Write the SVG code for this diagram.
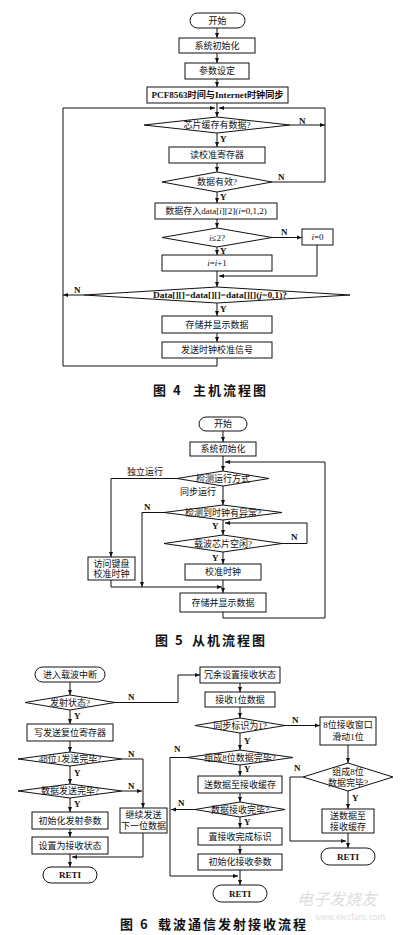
<svg xmlns="http://www.w3.org/2000/svg" width="400" height="935" viewBox="0 0 400 935">
<style>
.b{fill:#fff;stroke:#111;stroke-width:1}
.t{font-family:"Liberation Serif","Noto Sans CJK SC",serif;font-size:9px;text-anchor:middle;dominant-baseline:central;fill:#111}
.bt{font-weight:bold}
.l{font-family:"Liberation Serif","Noto Sans CJK SC",serif;font-size:9px;font-weight:bold;fill:#111;dominant-baseline:central}
.c{fill:none;stroke:#111;stroke-width:1}
.a{marker-end:url(#ah)}
.cap{font-family:"Noto Sans CJK SC",sans-serif;font-size:13px;font-weight:bold;fill:#111;dominant-baseline:central;letter-spacing:2px}
.wm{font-family:"Noto Sans CJK SC","Liberation Sans",sans-serif;fill:#ddd;dominant-baseline:central}
</style>
<defs>
<marker id="ah" viewBox="0 0 10 10" refX="10" refY="5" markerWidth="5" markerHeight="5" orient="auto"><path d="M0,1 L10,5 L0,9 z" fill="#111"/></marker>
</defs>
<rect width="400" height="935" fill="#fff"/>

<!-- Figure 4 -->
<g id="f4-start"><rect class="b" x="190" y="13" width="55" height="15" rx="7.5"/><text class="t" x="217.5" y="20.5">开始</text></g>
<g id="f4-init"><rect class="b" x="179" y="38" width="76" height="15"/><text class="t" x="217" y="45.5">系统初始化</text></g>
<g id="f4-param"><rect class="b" x="185" y="63" width="64" height="16"/><text class="t" x="217" y="71">参数设定</text></g>
<g id="f4-sync"><rect class="b" x="147" y="87" width="141" height="16"/><text class="t bt" x="217.5" y="95" textLength="132" lengthAdjust="spacingAndGlyphs">PCF8563时间与Internet时钟同步</text></g>
<g id="f4-d1"><polygon class="b" points="217,117 290,125 217,133 144,125"/><text class="t" x="217" y="125">芯片缓存有数据?</text></g>
<g id="f4-read"><rect class="b" x="169" y="147" width="96" height="16"/><text class="t" x="217" y="155">读校准寄存器</text></g>
<g id="f4-d2"><polygon class="b" points="217,172 272,182 217,192 162,182"/><text class="t" x="217" y="182">数据有效?</text></g>
<g id="f4-store"><rect class="b" x="155" y="203" width="122" height="16"/><text class="t" x="216" y="211">数据存入data[<tspan font-style="italic">i</tspan>][2](<tspan font-style="italic">i</tspan>=0,1,2)</text></g>
<g id="f4-d3"><polygon class="b" points="217,228 272,237.5 217,247 162,237.5"/><text class="t" x="217" y="237.5"><tspan font-style="italic">i</tspan>≤2?</text></g>
<g id="f4-i0"><rect class="b" x="302" y="229" width="31" height="16"/><text class="t" x="317.5" y="237"><tspan font-style="italic">i</tspan>=0</text></g>
<g id="f4-inc"><rect class="b" x="162" y="255" width="110" height="16"/><text class="t" x="217" y="263"><tspan font-style="italic">i</tspan>=<tspan font-style="italic">i</tspan>+1</text></g>
<g id="f4-d4"><polygon class="b" points="217,287 350,295 217,303 84,295"/><text class="t bt" x="220" y="295" font-size="8" textLength="134" lengthAdjust="spacingAndGlyphs">Data[][]=data[][]=data[][](<tspan font-style="italic">j</tspan>=0,1)?</text></g>
<g id="f4-show"><rect class="b" x="162" y="316" width="110" height="17"/><text class="t" x="217" y="324.5">存储并显示数据</text></g>
<g id="f4-send"><rect class="b" x="162" y="342" width="110" height="16"/><text class="t" x="217" y="350">发送时钟校准信号</text></g>

<!-- Figure 5 -->
<g id="f5-start"><rect class="b" x="199" y="417" width="48" height="14" rx="7"/><text class="t" x="223" y="424">开始</text></g>
<g id="f5-init"><rect class="b" x="190" y="442" width="66" height="14"/><text class="t" x="223" y="449">系统初始化</text></g>
<g id="f5-d1"><polygon class="b" points="223,471 269,478.5 223,486 177,478.5"/><text class="t" x="223" y="478.5">检测运行方式</text></g>
<g id="f5-d2"><polygon class="b" points="223,505 282,512.5 223,520 164,512.5"/><text class="t" x="223" y="512.5">检测到时钟有异常?</text></g>
<g id="f5-d3"><polygon class="b" points="223,535 282,543.5 223,552 164,543.5"/><text class="t" x="223" y="543.5">载波芯片空闲?</text></g>
<g id="f5-kbd"><rect class="b" x="88" y="557" width="47" height="23"/><text class="t" x="111.5" y="563.5">访问键盘</text><text class="t" x="111.5" y="574">校准时钟</text></g>
<g id="f5-cal"><rect class="b" x="185" y="564" width="76" height="16"/><text class="t" x="223" y="572">校准时钟</text></g>
<g id="f5-show"><rect class="b" x="180" y="593" width="86" height="19"/><text class="t" x="223" y="602.5">存储并显示数据</text></g>

<!-- Figure 6 left -->
<g id="f6-start"><rect class="b" x="35" y="667" width="70" height="15" rx="7.5"/><text class="t" x="70" y="674.5">进入载波中断</text></g>
<g id="f6-d1"><polygon class="b" points="70,695 115,702.5 70,710 25,702.5"/><text class="t" x="70" y="702.5">发射状态?</text></g>
<g id="f6-wr"><rect class="b" x="27" y="724" width="86" height="17"/><text class="t" x="70" y="732.5">写发送复位寄存器</text></g>
<g id="f6-d2"><polygon class="b" points="70,752 122,759 70,766 18,759"/><text class="t" x="70" y="759">48位1发送完毕?</text></g>
<g id="f6-d3"><polygon class="b" points="70,784 122,791 70,798 18,791"/><text class="t" x="70" y="791">数据发送完毕?</text></g>
<g id="f6-initTx"><rect class="b" x="32" y="812" width="76" height="17"/><text class="t" x="70" y="820.5">初始化发射参数</text></g>
<g id="f6-setRx"><rect class="b" x="32" y="837" width="76" height="17"/><text class="t" x="70" y="845.5">设置为接收状态</text></g>
<g id="f6-cont"><rect class="b" x="120" y="808" width="47" height="25"/><text class="t" x="143.5" y="815">继续发送</text><text class="t" x="143.5" y="826">下一位数据</text></g>
<g id="f6-reti1"><rect class="b" x="43" y="867" width="54" height="16" rx="8"/><text class="t bt" x="70" y="875">RETI</text></g>

<!-- Figure 6 middle -->
<g id="f6-rx"><rect class="b" x="200" y="667" width="80" height="16"/><text class="t" x="240" y="675">冗余设置接收状态</text></g>
<g id="f6-rx1"><rect class="b" x="205" y="692" width="70" height="15"/><text class="t" x="240" y="699.5">接收1位数据</text></g>
<g id="f6-d4"><polygon class="b" points="240,718 285,725.5 240,733 195,725.5"/><text class="t" x="240" y="725.5">同步标识为1?</text></g>
<g id="f6-d5"><polygon class="b" points="240,750 293,757.5 240,765 187,757.5"/><text class="t" x="240" y="757.5">组成8位数据完毕?</text></g>
<g id="f6-buf"><rect class="b" x="198" y="776" width="84" height="17"/><text class="t" x="240" y="784.5">送数据至接收缓存</text></g>
<g id="f6-d6"><polygon class="b" points="240,802 285,809.5 240,817 195,809.5"/><text class="t" x="240" y="809.5">数据接收完毕?</text></g>
<g id="f6-flag"><rect class="b" x="198" y="828" width="84" height="17"/><text class="t" x="240" y="836.5">置接收完成标识</text></g>
<g id="f6-initRx"><rect class="b" x="198" y="854" width="84" height="16"/><text class="t" x="240" y="862">初始化接收参数</text></g>
<g id="f6-reti2"><rect class="b" x="213" y="885" width="54" height="17" rx="8.5"/><text class="t bt" x="240" y="893.5">RETI</text></g>

<!-- Figure 6 right -->
<g id="f6-slide"><rect class="b" x="320" y="717" width="56" height="28"/><text class="t" x="348" y="725">8位接收窗口</text><text class="t" x="348" y="737">滑动1位</text></g>
<g id="f6-d7"><polygon class="b" points="348,763 393,777 348,791 303,777"/><text class="t" x="348" y="771.5">组成8位</text><text class="t" x="348" y="783">数据完毕?</text></g>
<g id="f6-buf2"><rect class="b" x="322" y="809" width="52" height="24"/><text class="t" x="348" y="815.5">送数据至</text><text class="t" x="348" y="826.5">接收缓存</text></g>
<g id="f6-reti3"><rect class="b" x="321" y="848" width="54" height="17" rx="8.5"/><text class="t bt" x="348" y="856.5">RETI</text></g>

<g id="connectors">
<!-- fig 4 -->
<path class="c a" d="M217,28 V38"/>
<path class="c a" d="M217,53 V63"/>
<path class="c a" d="M217,79 V87"/>
<path class="c a" d="M217,103 V117"/>
<path class="c a" d="M290,125 H325"/>
<path class="c a" d="M217,133 V147"/>
<path class="c a" d="M217,163 V172"/>
<path class="c a" d="M272,182 H325 V108 H219"/>
<path class="c a" d="M217,192 V203"/>
<path class="c a" d="M217,219 V228"/>
<path class="c a" d="M272,237.5 H302"/>
<path class="c a" d="M317,245 V276 H219"/>
<path class="c a" d="M217,247 V255"/>
<path class="c a" d="M217,271 V287"/>
<path class="c a" d="M84,295 H63"/>
<path class="c a" d="M217,303 V316"/>
<path class="c a" d="M217,333 V342"/>
<path class="c a" d="M217,358 V366 H63 V108 H215"/>
<!-- fig 5 -->
<path class="c a" d="M223,431 V442"/>
<path class="c a" d="M223,456 V471"/>
<path class="c a" d="M177,478.5 H111 V557"/>
<path class="c a" d="M223,486 V505"/>
<path class="c a" d="M164,512.5 H142 V587"/>
<path class="c a" d="M223,520 V535"/>
<path class="c a" d="M282,543.5 H307 V523 H225"/>
<path class="c a" d="M223,552 V564"/>
<path class="c a" d="M223,580 V593"/>
<path class="c a" d="M111,580 V587 H222"/>
<path class="c a" d="M223,612 V618 H325 V462 H225"/>
<!-- fig 6 -->
<path class="c a" d="M70,682 V695"/>
<path class="c a" d="M115,702.5 H178 V675 H200"/>
<path class="c a" d="M70,710 V724"/>
<path class="c a" d="M70,741 V752"/>
<path class="c a" d="M122,759 H143 V808"/>
<path class="c a" d="M70,766 V784"/>
<path class="c a" d="M122,791 H142"/>
<path class="c a" d="M70,798 V812"/>
<path class="c a" d="M70,829 V837"/>
<path class="c a" d="M70,854 V867"/>
<path class="c a" d="M143,833 V857 H72"/>
<path class="c a" d="M240,683 V692"/>
<path class="c a" d="M240,707 V718"/>
<path class="c a" d="M285,725.5 H320"/>
<path class="c a" d="M240,733 V750"/>
<path class="c a" d="M187,757.5 H170 V876 H238"/>
<path class="c a" d="M240,765 V776"/>
<path class="c a" d="M240,793 V802"/>
<path class="c a" d="M195,809.5 H171"/>
<path class="c a" d="M240,817 V828"/>
<path class="c a" d="M240,845 V854"/>
<path class="c a" d="M240,870 V885"/>
<path class="c a" d="M348,745 V763"/>
<path class="c a" d="M303,777 H290 V841 H346"/>
<path class="c a" d="M348,791 V809"/>
<path class="c a" d="M348,833 V848"/>
</g>

<g id="labels">
<text class="l" x="299" y="121">N</text>
<text class="l" x="220" y="139">Y</text>
<text class="l" x="278" y="177">N</text>
<text class="l" x="220" y="197">Y</text>
<text class="l" x="281" y="232">N</text>
<text class="l" x="220" y="251">Y</text>
<text class="l" x="74" y="290">N</text>
<text class="l" x="220" y="309">Y</text>

<text class="t" x="145" y="472">独立运行</text>
<text class="t" x="198" y="492">同步运行</text>
<text class="l" x="144" y="507">N</text>
<text class="l" x="212" y="526">Y</text>
<text class="l" x="291" y="537">N</text>
<text class="l" x="212" y="558">Y</text>

<text class="l" x="128" y="697">N</text>
<text class="l" x="74" y="716">Y</text>
<text class="l" x="128" y="754">N</text>
<text class="l" x="74" y="773">Y</text>
<text class="l" x="128" y="786">N</text>
<text class="l" x="74" y="804">Y</text>

<text class="l" x="292" y="720">N</text>
<text class="l" x="244" y="741">Y</text>
<text class="l" x="174" y="749">N</text>
<text class="l" x="244" y="769">Y</text>
<text class="l" x="178" y="803">N</text>
<text class="l" x="244" y="822">Y</text>
<text class="l" x="294" y="768">N</text>
<text class="l" x="352" y="798">Y</text>
</g>

<g id="captions">
<text class="cap" x="153" y="389">图 4</text>
<text class="cap" x="193" y="389">主机流程图</text>
<text class="cap" x="155" y="639" font-size="12">图 5</text>
<text class="cap" x="192" y="639" font-size="12">从机流程图</text>
<text class="cap" x="120" y="923">图 6</text>
<text class="cap" x="158" y="923" letter-spacing="1">载波通信发射接收流程</text>
</g>

<g id="watermark">
<text class="wm" x="297" y="898" font-size="16" font-style="italic">电子发烧友</text>
<text class="wm" x="315" y="916" font-size="8">www.elecfans.com</text>
</g>
</svg>
